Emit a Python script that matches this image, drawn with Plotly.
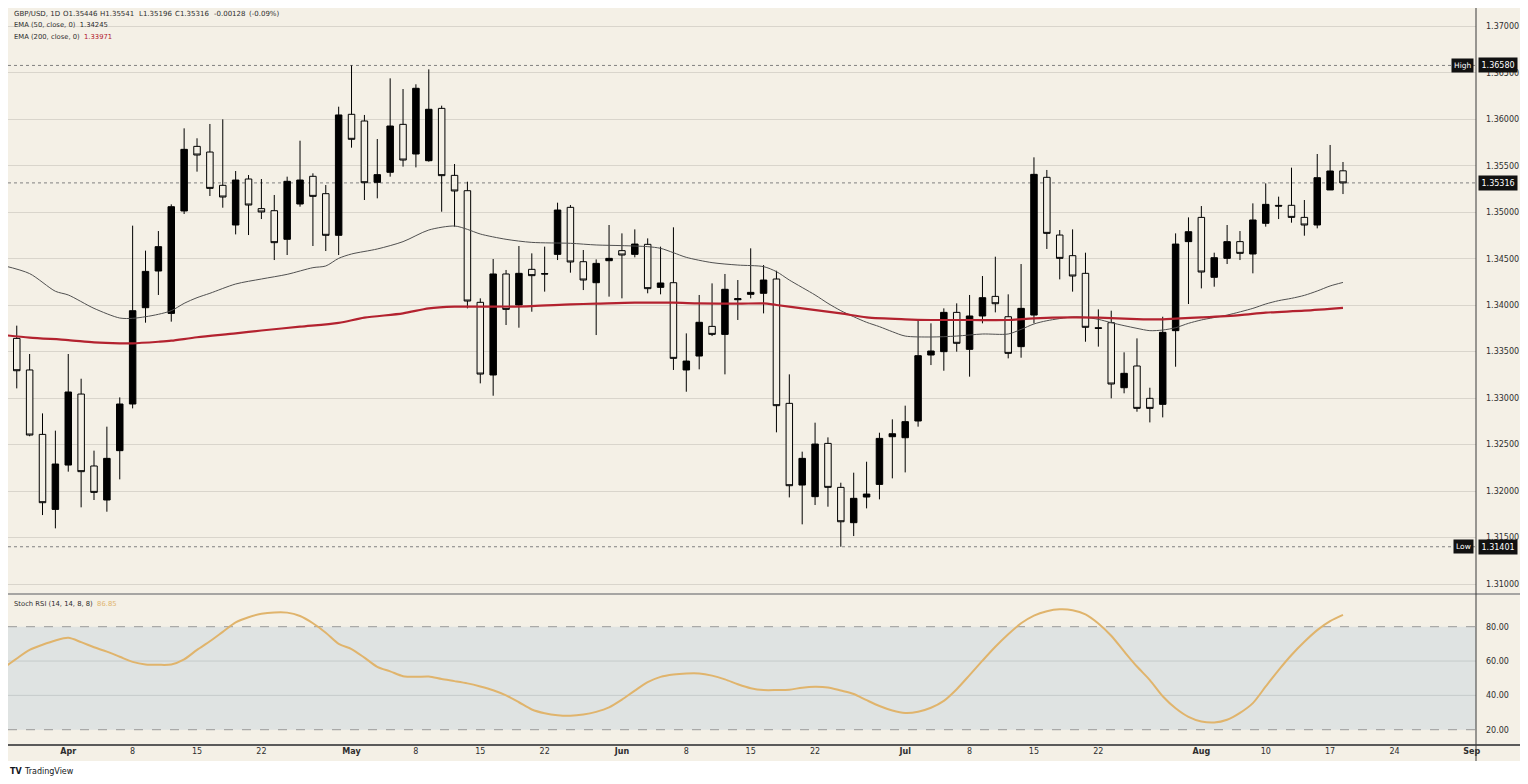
import numpy as np
import plotly.graph_objects as go

# -----------------------------
# daily candles GBP/USD, bar index 0 = first visible bar
# -----------------------------

opens = [1.34110, 1.33643, 1.33303, 1.32610, 1.31803, 1.32280, 1.33044, 1.32270, 1.31904, 1.32435,
         1.32937, 1.33973, 1.34368, 1.33912, 1.35014, 1.35709, 1.35648, 1.35290, 1.34863, 1.35358,
         1.35039, 1.35017, 1.34709, 1.35089, 1.35387, 1.35200, 1.34752, 1.36054, 1.35982, 1.35322,
         1.35430, 1.35946, 1.35627, 1.35555, 1.36118, 1.35397, 1.35232, 1.34031, 1.33249, 1.34336,
         1.34002, 1.34386, 1.34340, 1.34547, 1.35053, 1.34468, 1.34242, 1.34479, 1.34587, 1.34547,
         1.34655, 1.34192, 1.34242, 1.33303, 1.33453, 1.33772, 1.33686, 1.34059, 1.34117, 1.34128,
         1.34282, 1.32944, 1.32065, 1.31940, 1.32513, 1.32040, 1.31660, 1.31936, 1.32072, 1.32585,
         1.32574, 1.32754, 1.33464, 1.33500, 1.33923, 1.33525, 1.33884, 1.34095, 1.33876, 1.33554,
         1.33894, 1.35376, 1.34755, 1.34533, 1.34343, 1.33758, 1.33812, 1.33112, 1.33346, 1.32998,
         1.32933, 1.33726, 1.34684, 1.34945, 1.34300, 1.34504, 1.34684, 1.34551, 1.34881, 1.35074,
         1.35075, 1.34945, 1.34863, 1.35240, 1.35446]
highs = [1.34130, 1.33780, 1.33475, 1.32836, 1.32650, 1.33475, 1.33209, 1.32435, 1.32693, 1.33008,
         1.34856, 1.34587, 1.34798, 1.35085, 1.35903, 1.35796, 1.35950, 1.36000, 1.35444, 1.35401,
         1.35358, 1.35186, 1.35383, 1.35770, 1.35419, 1.35293, 1.36136, 1.36580, 1.36047, 1.35788,
         1.36441, 1.36326, 1.36377, 1.36538, 1.36147, 1.35519, 1.35329, 1.34074, 1.34497, 1.34379,
         1.34637, 1.34558, 1.34630, 1.35103, 1.35078, 1.34594, 1.34493, 1.34863, 1.34773, 1.34816,
         1.34719, 1.34630, 1.34838, 1.33697, 1.34110, 1.34235, 1.34336, 1.34271, 1.34612, 1.34432,
         1.34371, 1.33256, 1.32424, 1.32736, 1.32578, 1.32090, 1.32198, 1.32316, 1.32628, 1.32772,
         1.32919, 1.33848, 1.33805, 1.33966, 1.34020, 1.34110, 1.34314, 1.34522, 1.34117, 1.34443,
         1.35591, 1.35455, 1.34809, 1.34816, 1.34565, 1.33955, 1.33941, 1.33493, 1.33643, 1.33112,
         1.33876, 1.34773, 1.34945, 1.35067, 1.34565, 1.34863, 1.34798, 1.35096, 1.35311, 1.35168,
         1.35480, 1.35132, 1.35627, 1.35724, 1.35541]
lows = [1.33640, 1.33105, 1.32590, 1.31742, 1.31599, 1.32209, 1.31825, 1.31904, 1.31778, 1.32126,
        1.32890, 1.33812, 1.34110, 1.33823, 1.34981, 1.35437, 1.35175, 1.35049, 1.34762, 1.34755,
        1.34927, 1.34486, 1.34540, 1.35060, 1.34637, 1.34583, 1.34540, 1.35695, 1.35132, 1.35150,
        1.35383, 1.35491, 1.35483, 1.35544, 1.35006, 1.34845, 1.33966, 1.33159, 1.33026, 1.33787,
        1.33758, 1.33930, 1.34146, 1.34486, 1.34350, 1.34163, 1.33679, 1.34092, 1.34074, 1.34515,
        1.34128, 1.34117, 1.33303, 1.33069, 1.33310, 1.33668, 1.33256, 1.33841, 1.34074, 1.33912,
        1.32632, 1.31932, 1.31642, 1.31850, 1.31832, 1.31401, 1.31516, 1.31814, 1.31911, 1.32137,
        1.32201, 1.32693, 1.33356, 1.33295, 1.33500, 1.33231, 1.33805, 1.33923, 1.33428, 1.33435,
        1.33805, 1.34605, 1.34278, 1.34146, 1.33607, 1.33554, 1.32998, 1.33052, 1.32854, 1.32739,
        1.32793, 1.33338, 1.34013, 1.34181, 1.34199, 1.34443, 1.34486, 1.34343, 1.34845, 1.34927,
        1.34888, 1.34748, 1.34827, 1.35240, 1.35196]
closes = [1.33661, 1.33295, 1.32603, 1.31875, 1.32291, 1.33066, 1.32209, 1.31986, 1.32352, 1.32937,
          1.33941, 1.34364, 1.34630, 1.35060, 1.35677, 1.35616, 1.35257, 1.35164, 1.35347, 1.35078,
          1.35003, 1.34673, 1.35333, 1.35347, 1.35171, 1.34752, 1.36047, 1.35785, 1.35318, 1.35405,
          1.35928, 1.35562, 1.36334, 1.36108, 1.35394, 1.35229, 1.34045, 1.33259, 1.34336, 1.33955,
          1.34343, 1.34318, 1.34336, 1.35024, 1.34465, 1.34271, 1.34450, 1.34504, 1.34540, 1.34658,
          1.34178, 1.34239, 1.33428, 1.33399, 1.33816, 1.33686, 1.34171, 1.34070, 1.34138, 1.34271,
          1.32919, 1.32058, 1.32352, 1.32506, 1.32040, 1.31670, 1.31922, 1.31968, 1.32567, 1.32617,
          1.32747, 1.33457, 1.33507, 1.33923, 1.33590, 1.33884, 1.34081, 1.34016, 1.33482, 1.33966,
          1.35408, 1.34773, 1.34504, 1.34314, 1.33762, 1.33751, 1.33152, 1.33267, 1.32890, 1.32890,
          1.33708, 1.34658, 1.34791, 1.34357, 1.34511, 1.34684, 1.34558, 1.34917, 1.35085, 1.35067,
          1.34945, 1.34863, 1.35372, 1.35444, 1.35316]

# EMA lines (bar index -> value)
ema50_idx = [0, 2, 4, 5, 7, 9, 10, 11, 12, 13, 14, 15, 16, 18, 20, 22, 24, 25, 26, 27,
             29, 31, 33, 35, 36, 37, 39, 41, 44, 46, 48, 50, 51, 52, 53, 55, 57, 59, 60, 61,
             63, 64, 65, 66, 67, 68, 69, 70, 72, 74, 76, 78, 79, 80, 81, 83, 84, 85, 86, 87,
             88, 89, 90, 91, 92, 93, 95, 97, 98, 99, 100, 101, 102, 103, 104]
ema50_val = [1.34425, 1.34340, 1.34150, 1.34110, 1.33966, 1.33862, 1.33859, 1.33876, 1.33902, 1.33941,
             1.34020, 1.34081, 1.34128, 1.34228, 1.34282, 1.34332, 1.34404, 1.34422, 1.34504, 1.34551,
             1.34605, 1.34684, 1.34809, 1.34852, 1.34816, 1.34766, 1.34709, 1.34676, 1.34666, 1.34648,
             1.34641, 1.34630, 1.34612, 1.34565, 1.34515, 1.34458, 1.34432, 1.34415, 1.34361, 1.34271,
             1.34110, 1.34020, 1.33941, 1.33876, 1.33816, 1.33769, 1.33715, 1.33668, 1.33658, 1.33668,
             1.33690, 1.33690, 1.33740, 1.33798, 1.33833, 1.33873, 1.33869, 1.33848, 1.33812, 1.33780,
             1.33751, 1.33726, 1.33733, 1.33758, 1.33805, 1.33841, 1.33894, 1.33966, 1.34013, 1.34049,
             1.34074, 1.34106, 1.34153, 1.34207, 1.34245]

ema200_idx = [0, 2, 5, 7, 9, 10, 12, 13, 15, 18, 20, 23, 26, 28, 31, 33, 35, 38, 41, 44,
              46, 49, 52, 54, 57, 59, 60, 62, 65, 67, 70, 72, 75, 78, 80, 83, 85, 88, 90, 91,
              93, 96, 98, 101, 104]
ema200_val = [1.33679, 1.33651, 1.33625, 1.33600, 1.33590, 1.33590, 1.33607, 1.33618, 1.33655, 1.33697,
              1.33728, 1.33769, 1.33810, 1.33866, 1.33912, 1.33966, 1.33984, 1.33984, 1.33991, 1.34009,
              1.34016, 1.34027, 1.34027, 1.34020, 1.34016, 1.34020, 1.34002, 1.33966, 1.33912, 1.33869,
              1.33848, 1.33841, 1.33841, 1.33841, 1.33859, 1.33869, 1.33866, 1.33851, 1.33848, 1.33855,
              1.33869, 1.33894, 1.33920, 1.33941, 1.33971]

# Stoch RSI per bar
stoch = [56.0, 61.5, 66.5, 69.5, 72.0, 73.5, 71.0, 68.0, 65.5, 62.5,
         59.5, 58.0, 57.8, 58.0, 61.0, 66.5, 71.5, 77.0, 82.5, 85.5,
         87.5, 88.3, 88.2, 86.2, 82.0, 76.5, 70.0, 67.0, 62.0, 56.6,
         54.0, 51.2, 50.8, 51.0, 49.5, 48.3, 47.0, 45.2, 43.0, 40.0,
         36.0, 31.8, 29.6, 28.4, 28.1, 28.8, 30.4, 33.0, 37.5, 42.8,
         47.7, 50.8, 52.2, 52.8, 52.8, 51.5, 49.3, 46.5, 44.2, 43.1,
         43.1, 43.3, 44.5, 45.0, 44.6, 42.8, 40.8, 37.2, 33.8, 31.2,
         29.8, 30.5, 32.8, 36.8, 43.6, 51.8, 60.2, 68.3, 75.6, 82.0,
         86.5, 89.0, 90.1, 89.6, 87.2, 81.9, 74.7, 65.6, 56.8, 48.9,
         39.5, 32.5, 27.5, 24.8, 24.2, 25.8, 29.8, 35.5, 45.2, 54.7,
         63.5, 71.2, 78.0, 83.2, 86.85]

# date axis labels (bar index where each label sits)
tick_idx = [5, 10, 15, 20, 27, 32, 37, 42, 48, 53, 58, 63, 70, 75, 80, 85, 93, 98, 103, 108, 114]
tick_txt = ["<b>Apr</b>", "8", "15", "22", "<b>May</b>", "8", "15", "22", "<b>Jun</b>", "8", "15", "22",
            "<b>Jul</b>", "8", "15", "22", "<b>Aug</b>", "10", "17", "24", "<b>Sep</b>"]

# -----------------------------
# cores / estilo
# -----------------------------

BG = "#f4f0e6"
GRID = "#d9d5cc"
TXT = "#2e2e2e"
EMA50_C = "#505050"
EMA200_C = "#b3222f"
STOCH_C = "#e0b46c"
FONT = "DejaVu Sans"

bars = np.arange(len(opens))
hi_price = max(highs)
lo_price = min(lows)
last = closes[-1]
chg = closes[-1] - closes[-2]
chg_pct = chg / closes[-2] * 100

SPLIT = 0.2049  # price pane / stoch pane boundary (paper)

fig = go.Figure()

fig.add_trace(go.Candlestick(
    x=bars, open=opens, high=highs, low=lows, close=closes,
    increasing=dict(fillcolor="#000000", line=dict(color="#000000", width=1)),
    decreasing=dict(fillcolor=BG, line=dict(color="#000000", width=1)),
    whiskerwidth=0,
    xaxis="x", yaxis="y", showlegend=False, hoverinfo="skip"
))

fig.add_trace(go.Scatter(
    x=ema50_idx, y=ema50_val, mode="lines",
    line=dict(color=EMA50_C, width=1, shape="spline", smoothing=0.8),
    xaxis="x", yaxis="y", showlegend=False, hoverinfo="skip"
))

fig.add_trace(go.Scatter(
    x=ema200_idx, y=ema200_val, mode="lines",
    line=dict(color=EMA200_C, width=2.2, shape="spline", smoothing=0.8),
    xaxis="x", yaxis="y", showlegend=False, hoverinfo="skip"
))

fig.add_trace(go.Scatter(
    x=bars, y=stoch, mode="lines",
    line=dict(color=STOCH_C, width=2, shape="spline", smoothing=0.8),
    xaxis="x2", yaxis="y2", showlegend=False, hoverinfo="skip"
))

# -----------------------------
# shapes
# -----------------------------

shapes = []
# white footer under the date strip
shapes.append(dict(type="rect", xref="paper", yref="paper", x0=-0.01, x1=1.04, y0=-0.06, y1=-0.0217,
                   fillcolor="#ffffff", line=dict(width=0), layer="below"))

# stoch band
shapes.append(dict(type="rect", xref="x2 domain", yref="y2", x0=0, x1=1, y0=20, y1=80,
                   fillcolor="#dfe3e2", line=dict(width=0), layer="below"))
for lvl in [40, 60]:
    shapes.append(dict(type="line", xref="x2 domain", yref="y2", x0=0, x1=1, y0=lvl, y1=lvl,
                       line=dict(color="#c6cbcb", width=1), layer="below"))
for lvl in [20, 80]:
    shapes.append(dict(type="line", xref="x2 domain", yref="y2", x0=0, x1=1, y0=lvl, y1=lvl,
                       line=dict(color="#9a9a9a", width=1, dash="dash"), layer="below"))

# high / low / last price dotted lines
for lvl in [hi_price, last, lo_price]:
    shapes.append(dict(type="line", xref="x domain", yref="y", x0=0, x1=1, y0=lvl, y1=lvl,
                       line=dict(color="#808080", width=1, dash="dot"), layer="below"))

# pane separator, bottom axis line, right axis line
shapes.append(dict(type="line", xref="paper", yref="paper", x0=0, x1=1.04, y0=SPLIT, y1=SPLIT,
                   line=dict(color="#8c8c8c", width=1.5)))
shapes.append(dict(type="line", xref="paper", yref="paper", x0=0, x1=1.04, y0=0, y1=0,
                   line=dict(color="#5a5a5a", width=2)))
shapes.append(dict(type="line", xref="paper", yref="paper", x0=1, x1=1, y0=-0.0217, y1=1.0,
                   line=dict(color="#3a3a3a", width=1)))

# -----------------------------
# annotations
# -----------------------------

ann = []

# header line: each field placed on its own, like the TradingView status line
header = ["GBP/USD, 1D", f"O{opens[-1]:.5f}", f"H{highs[-1]:.5f}", f"L{lows[-1]:.5f}",
          f"C{closes[-1]:.5f}", f"{chg:.5f}", f"({chg_pct:.2f}%)"]
header_x = [0.0027, 0.0361, 0.0613, 0.0879, 0.1124, 0.1390, 0.1625]
for t, xp in zip(header, header_x):
    ann.append(dict(xref="paper", yref="paper", x=xp, y=0.9919, text=t,
                    showarrow=False, xanchor="left", yanchor="middle",
                    font=dict(family=FONT, size=7, color=TXT)))

legend_lines = [
    f"EMA (50, close, 0)  {ema50_val[-1]:.5f}",
    f"EMA (200, close, 0)  <span style='color:{EMA200_C}'>{ema200_val[-1]:.5f}</span>",
]
for i, t in enumerate(legend_lines):
    ann.append(dict(xref="paper", yref="paper", x=0.0027, y=0.9763 - i * 0.0156, text=t,
                    showarrow=False, xanchor="left", yanchor="middle",
                    font=dict(family=FONT, size=6.8, color=TXT)))

ann.append(dict(xref="paper", yref="paper", x=0.0027, y=0.1913,
                text=f"Stoch RSI (14, 14, 8, 8)  <span style='color:{STOCH_C}'>{stoch[-1]:.2f}</span>",
                showarrow=False, xanchor="left", yanchor="middle",
                font=dict(family=FONT, size=6.8, color=TXT)))

# price tags
for lvl, tag in [(hi_price, "High"), (lo_price, "Low")]:
    ann.append(dict(xref="paper", yref="y", x=0.9986, y=lvl, text=tag, showarrow=False,
                    xanchor="right", yanchor="middle", bgcolor="#111111", borderpad=2,
                    font=dict(family=FONT, size=7.5, color="#ffffff")))
for lvl in [hi_price, last, lo_price]:
    ann.append(dict(xref="paper", yref="y", x=1.0014, y=lvl, text=f"{lvl:.5f}", showarrow=False,
                    xanchor="left", yanchor="middle", bgcolor="#111111", borderpad=2.5,
                    font=dict(family=FONT, size=8, color="#ffffff")))

# footer
ann.append(dict(xref="paper", yref="paper", x=0.0, y=-0.0366, text="<b>TV</b>", showarrow=False,
                xanchor="left", yanchor="middle", font=dict(family=FONT, size=8, color="#131722")))
ann.append(dict(xref="paper", yref="paper", x=0.0095, y=-0.0366, text="TradingView", showarrow=False,
                xanchor="left", yanchor="middle", font=dict(family=FONT, size=8, color="#131722")))

# -----------------------------
# layout (page adds 8px body margin, so figure is 1520x776)
# -----------------------------

fig.update_layout(
    width=1520, height=776,
    margin=dict(l=0, r=52, t=0, b=39),
    paper_bgcolor=BG, plot_bgcolor="rgba(0,0,0,0)",
    showlegend=False, boxgap=0.28,
    shapes=shapes, annotations=ann,
    font=dict(family=FONT, size=8, color=TXT),
    xaxis=dict(domain=[0, 1], anchor="y", range=[0.32, 114.33], showticklabels=False,
               showgrid=False, zeroline=False, rangeslider=dict(visible=False), matches="x2"),
    xaxis2=dict(domain=[0, 1], anchor="y2", range=[0.32, 114.33], tickmode="array",
                tickvals=tick_idx, ticktext=tick_txt, showgrid=False, zeroline=False,
                ticks="", tickfont=dict(family=FONT, size=8, color=TXT)),
    yaxis=dict(domain=[SPLIT, 1], anchor="x", side="right", range=[1.308927, 1.371979],
               tick0=1.31, dtick=0.005, tickformat=".5f", showgrid=True, gridcolor=GRID,
               gridwidth=1, zeroline=False, ticks="", ticklabelstandoff=9,
               tickfont=dict(family=FONT, size=8, color=TXT)),
    yaxis2=dict(domain=[0, SPLIT], anchor="x2", side="right", range=[11.1, 99.05],
                tickmode="array", tickvals=[20, 40, 60, 80], tickformat=".2f", showgrid=False,
                zeroline=False, ticks="", ticklabelstandoff=9,
                tickfont=dict(family=FONT, size=8, color=TXT)),
)

fig.write_html("out.html")
